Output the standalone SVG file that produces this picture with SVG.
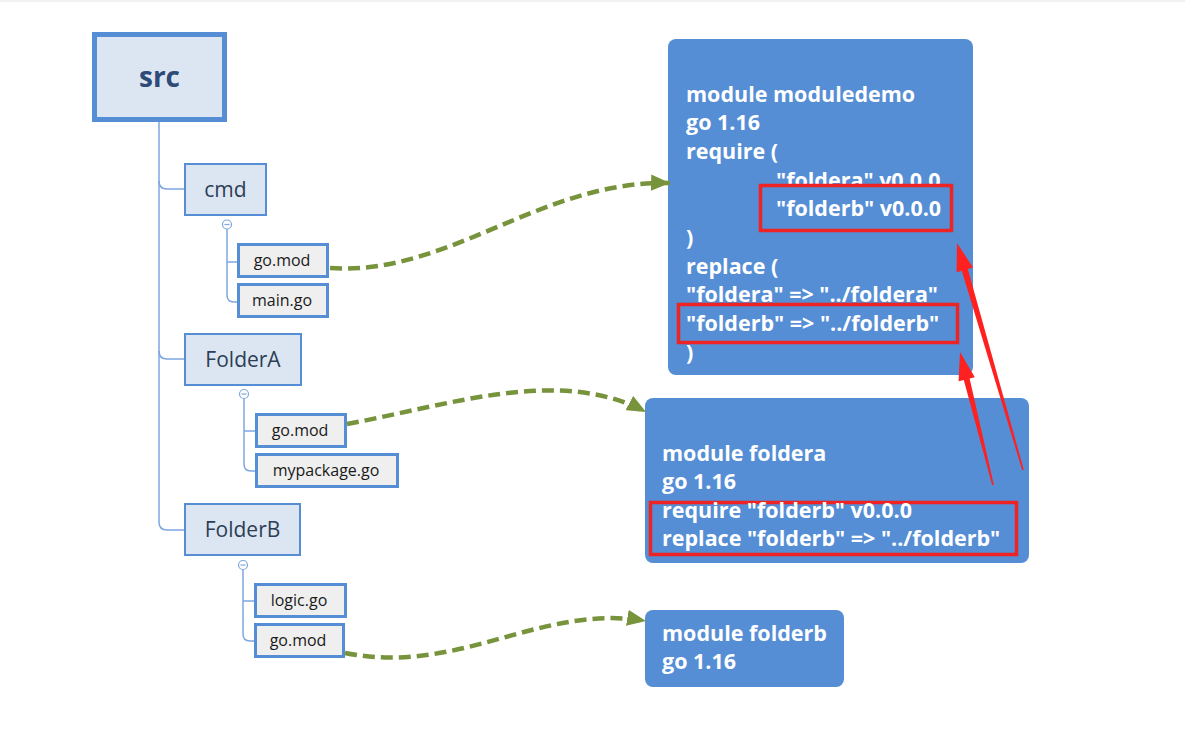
<svg xmlns="http://www.w3.org/2000/svg" width="1185" height="729" viewBox="0 0 1185 729">
<defs>
<style>
.tree{fill:none;stroke:#7ea6e0;stroke-width:1.5}
.folder{fill:#dce6f2;stroke:#558ed5;stroke-width:2}
.file{fill:#efefef;stroke:#558ed5;stroke-width:3}
.ftxt{font-family:"Open Sans","Noto Sans",sans-serif;font-size:21px;fill:#2d3e55;text-anchor:middle}
.filetxt{font-family:"Open Sans","Noto Sans",sans-serif;font-size:16px;fill:#1a1a1a;text-anchor:middle}
.box{fill:#558ed5}
.btxt{font-family:"Open Sans","Noto Sans",sans-serif;font-size:21.5px;font-weight:bold;fill:#ffffff}
.hl{fill:#558ed5;stroke:#ee2424;stroke-width:3.5}
.dash{fill:none;stroke:#77933c;stroke-width:4.5;stroke-dasharray:12 6}
.circ{fill:#ffffff;stroke:#7ea6e0;stroke-width:1.2}
.red{fill:#ff2020}
</style>
<marker id="ga" viewBox="0 0 10 10" refX="10" refY="5" markerWidth="4.2" markerHeight="3.6" orient="auto" markerUnits="strokeWidth" preserveAspectRatio="none">
<path d="M0,0 L10,5 L0,10 z" fill="#77933c"/>
</marker>
</defs>
<rect x="0" y="0" width="1185" height="2" fill="#f2f2f2"/>

<g id="tree-lines">
<path class="tree" d="M159 122 V522 Q159 530 167 530 H184"/>
<path class="tree" d="M159 181 Q159 189 167 189 H184"/>
<path class="tree" d="M159 351 Q159 359 167 359 H184"/>
<path class="tree" d="M227 229 V295 Q227 302 234 302 H238"/>
<path class="tree" d="M227 262 H238"/>
<path class="tree" d="M244 398 V464 Q244 471 251 471 H255"/>
<path class="tree" d="M244 431 H255"/>
<path class="tree" d="M243 569 V634 Q243 641 250 641 H254"/>
<path class="tree" d="M243 601 H254"/>
</g>

<g id="src">
<rect x="94.5" y="34.5" width="130" height="85" fill="#dce6f2" stroke="#558ed5" stroke-width="5"/>
<text x="159.5" y="87" font-family="'Open Sans','Noto Sans',sans-serif" font-size="28" font-weight="bold" fill="#2e4a78" text-anchor="middle">src</text>
</g>

<g id="cmd">
<rect class="folder" x="185" y="164" width="81" height="51"/>
<text class="ftxt" x="225.5" y="197">cmd</text>
<circle class="circ" cx="227" cy="224.5" r="4.5"/>
<path d="M224.5 224.5 H229.5" stroke="#7ea6e0" stroke-width="1.2"/>
</g>
<g id="cmd-gomod">
<rect class="file" x="238.5" y="244.5" width="89" height="32"/>
<text class="filetxt" x="282" y="266">go.mod</text>
</g>
<g id="cmd-maingo">
<rect class="file" x="238.5" y="284.5" width="89" height="32"/>
<text class="filetxt" x="282" y="306">main.go</text>
</g>

<g id="foldera">
<rect class="folder" x="185" y="334" width="116" height="51"/>
<text class="ftxt" x="243" y="367">FolderA</text>
<circle class="circ" cx="244" cy="394" r="4.5"/>
<path d="M241.5 394 H246.5" stroke="#7ea6e0" stroke-width="1.2"/>
</g>
<g id="foldera-gomod">
<rect class="file" x="256.5" y="414.5" width="89" height="32"/>
<text class="filetxt" x="300" y="436">go.mod</text>
</g>
<g id="foldera-mypackage">
<rect class="file" x="256.5" y="454.5" width="141" height="32"/>
<text class="filetxt" x="326" y="476">mypackage.go</text>
</g>

<g id="folderb">
<rect class="folder" x="185" y="504" width="115" height="51"/>
<text class="ftxt" x="242.5" y="537">FolderB</text>
<circle class="circ" cx="243" cy="565" r="4.5"/>
<path d="M240.5 565 H245.5" stroke="#7ea6e0" stroke-width="1.2"/>
</g>
<g id="folderb-logic">
<rect class="file" x="255.5" y="584.5" width="90" height="32"/>
<text class="filetxt" x="299" y="606">logic.go</text>
</g>
<g id="folderb-gomod">
<rect class="file" x="255.5" y="624.5" width="88" height="32"/>
<text class="filetxt" x="298" y="646">go.mod</text>
</g>

<g id="mod-moduledemo">
<rect class="box" x="668" y="39" width="305" height="336" rx="8"/>
<text class="btxt" x="686" y="101.5">module moduledemo</text>
<text class="btxt" x="686" y="130.2">go 1.16</text>
<text class="btxt" x="686" y="158.9">require (</text>
<text class="btxt" x="776" y="187.6">"foldera" v0.0.0</text>
<rect class="hl" x="760.5" y="185.5" width="191" height="45"/>
<text class="btxt" x="776" y="216.3">"folderb" v0.0.0</text>
<text class="btxt" x="686" y="245">)</text>
<text class="btxt" x="686" y="273.7">replace (</text>
<text class="btxt" x="686" y="302.4">"foldera" =&gt; "../foldera"</text>
<rect class="hl" x="678.5" y="304.5" width="279" height="38"/>
<text class="btxt" x="686" y="331.1">"folderb" =&gt; "../folderb"</text>
<text class="btxt" x="686" y="359.8">)</text>
</g>

<g id="mod-foldera">
<rect class="box" x="645" y="398" width="384" height="165" rx="8"/>
<text class="btxt" x="662" y="460.7">module foldera</text>
<text class="btxt" x="662" y="489.2">go 1.16</text>
<rect class="hl" x="650.5" y="502.5" width="366" height="52" fill="none"/>
<text class="btxt" x="662" y="517.7">require "folderb" v0.0.0</text>
<text class="btxt" x="662" y="546.2">replace "folderb" =&gt; "../folderb"</text>
</g>

<g id="mod-folderb">
<rect class="box" x="645" y="610" width="199" height="77" rx="8"/>
<text class="btxt" x="662" y="640.7">module folderb</text>
<text class="btxt" x="662" y="669.2">go 1.16</text>
</g>

<g id="connectors">
<path class="dash" marker-end="url(#ga)" d="M330 268 C450 276 540 180 670 183"/>
<path class="dash" marker-end="url(#ga)" d="M347 424 C450 405 560 366 646 412"/>
<path class="dash" marker-end="url(#ga)" d="M345 653 C460 676 540 603 646 621"/>
<polygon class="red" points="1023.8,469.8 967.8,269 973,267.5 957,243 956.6,272.2 961.8,270.8 1022.2,470.2"/>
<polygon class="red" points="993.8,484.8 969.6,378.4 974.8,377.2 960,352 958.6,381.2 963.8,380 992.2,485.2"/>
</g>
</svg>
